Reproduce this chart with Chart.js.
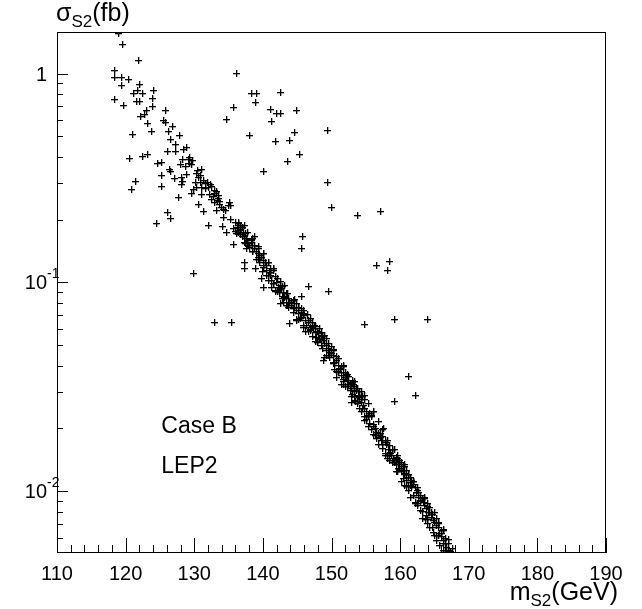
<!DOCTYPE html>
<html><head><meta charset="utf-8">
<script src="https://cdn.jsdelivr.net/npm/chart.js@4.4.1/dist/chart.umd.min.js"></script>
<style>html,body{margin:0;padding:0;background:#fff}canvas{position:absolute;left:0;top:0}</style>
</head><body>
<canvas id="c" width="642" height="609"></canvas>
<script>
// m_S2 (GeV)
const massGeV = [
118.93,119.52,121.91,118.31,118.31,119.43,120.45,119.33,122.09,121.76,
121.12,122.49,124.03,118.31,121.61,121.95,123.89,119.62,123.89,123.11,
125.74,122.20,122.82,125.55,125.88,123.22,126.80,126.32,123.84,121.03,
127.78,126.47,127.24,128.80,128.40,126.13,127.34,120.54,122.53,123.22,
129.38,129.13,128.32,124.62,125.20,129.28,127.97,128.75,129.63,126.42,
126.61,125.26,127.05,128.07,128.84,130.50,131.09,130.36,121.37,120.89,
125.30,128.07,129.53,131.09,131.61,131.96,129.86,127.73,130.69,131.38,
132.54,133.02,133.36,133.65,134.00,134.92,134.52,132.05,126.13,126.57,
124.53,129.82,134.09,134.63,135.31,135.94,136.27,136.19,136.67,137.15,
135.75,137.35,137.64,138.27,138.46,139.10,139.33,140.06,140.41,137.29,
137.25,138.95,139.92,141.18,141.52,139.83,141.52,142.50,140.06,141.29,
136.13,138.37,139.10,142.54,138.95,135.69,134.67,141.18,142.01,142.54,
144.93,141.23,138.02,144.68,141.87,143.85,145.37,143.62,140.06,149.42,
149.39,149.93,153.72,157.07,145.80,145.70,156.59,158.52,158.13,146.62,
149.59,154.74,159.11,163.96,161.25,162.31,159.15,133.02,135.50,145.66,
129.77,128.32,130.94,130.59,130.11,130.84,131.32,132.30,130.26,131.57,
132.05,133.02,131.09,132.19,132.78,133.27,133.50,132.54,133.50,133.02,
133.75,135.11,133.27,134.23,134.23,136.42,136.77,137.06,135.21,136.42,
137.54,137.64,138.37,137.88,138.12,138.71,139.33,139.58,139.83,140.56,
140.94,141.29,142.01,142.25,142.74,142.98,143.47,143.22,143.71,143.95,
144.20,143.71,144.43,142.50,142.98,145.66,144.43,144.68,144.93,145.66,
145.89,145.41,144.93,146.14,146.62,146.39,146.87,147.35,143.95,145.89,
147.60,148.08,148.57,147.84,148.32,148.81,149.05,148.57,149.30,149.53,
149.78,149.05,148.81,150.26,150.76,150.51,150.99,150.51,151.24,151.72,
151.49,151.97,152.45,150.76,152.70,153.18,153.67,153.42,153.91,154.40,
154.88,152.94,151.49,152.21,151.72,152.45,152.94,153.67,152.94,154.15,
154.40,154.63,154.88,155.13,155.36,155.61,155.86,154.88,155.61,156.09,
156.34,156.59,156.82,157.07,157.32,157.80,158.04,158.28,158.52,158.77,
159.01,159.25,159.73,159.50,159.98,160.23,160.71,160.96,161.44,158.52,
159.50,159.25,159.98,159.73,160.46,160.71,160.23,160.96,161.44,161.69,
162.17,162.42,161.92,162.65,162.90,163.38,163.62,163.87,164.11,164.35,
163.87,164.60,164.83,165.08,164.83,165.56,165.81,166.06,166.29,166.54,
166.79,167.02,167.27,167.52,159.69,159.84,160.27,160.57,160.86,161.15,
161.29,161.73,160.71,162.02,161.15,162.46,162.75,161.58,163.04,162.17,
163.48,162.60,163.92,163.04,164.21,163.33,164.64,165.37,164.06,165.23,
164.35,165.66,166.10,165.08,165.37,166.68,165.81,166.39,166.98,153.42,
153.72,154.01,154.44,154.74,155.17,155.46,155.90,156.19,156.63,157.50,
157.94,156.92,157.50,158.38,157.94,158.82,158.23,159.11,159.54,144.97,
145.26,145.99,146.43,145.26,146.87,147.16,147.74,147.01,148.18,148.62,
148.03,149.20,149.34,149.93,149.64,150.22,150.80,151.09,151.53,152.11,
151.82,152.40,152.99,152.70,153.42,154.01,154.44,153.28,136.38,136.81,
137.25,137.69,138.85,138.56,139.29,139.58,140.02,140.75,140.60,141.04,
141.77,140.75,141.91,142.35,142.93,143.37,142.64,
137.25,138.71,140.16,141.62,143.08,144.54,145.99,147.45,148.91,150.36,
151.82,153.28,154.74,156.19,157.65,159.11,160.57,162.02,163.48,164.94,
166.39,
136.08,137.54,139.00,140.46,141.91,143.37,144.83,146.28,147.74,149.20,
150.66,152.11,153.57,155.03,156.48,157.94,159.40,160.86,162.31,163.77,
165.23,166.68,
136.81,138.27,139.73,141.18,142.64,144.10,145.56,147.01,148.47,149.93,
151.38,152.84,154.30,155.76,157.21,158.67,160.13,161.58,163.04,164.50,
165.96,
136.38,137.10,137.83,138.56,139.29,140.02,140.75,141.48,142.20,142.93,
143.66,144.39,145.12,145.85,146.58,147.30,148.03,148.76,149.49,150.22,
150.95,151.68,152.40,153.13,153.86,154.59,155.32,156.05,156.78,157.50,
158.23,158.96,159.69,160.42,161.15,161.88,162.60,163.33,164.06,164.79,
165.52,166.25,166.98,167.70,
135.65,136.38,137.10,137.83,138.56,139.29,140.02,140.75,141.48,142.20,
142.93,143.66,144.39,145.12,145.85,146.58,147.30,148.03,148.76,149.49,
150.22,150.95,151.68,152.40,153.13,153.86,154.59,155.32,156.05,156.78,
157.50,158.23,158.96,159.69,160.42,161.15,161.88,162.60,163.33,164.06,
164.79,165.52,166.25,166.98
];
// sigma_S2 (fb)
const sigmaFb = [
1.56,1.37,1.15,1.03,0.960,0.960,0.939,0.879,0.889,0.832,
0.805,0.805,0.832,0.753,0.737,0.737,0.762,0.705,0.697,0.667,
0.667,0.625,0.639,0.598,0.585,0.578,0.560,0.530,0.530,0.512,
0.507,0.485,0.459,0.444,0.434,0.425,0.425,0.393,0.402,0.411,
0.398,0.389,0.389,0.372,0.376,0.372,0.368,0.360,0.368,0.348,
0.341,0.326,0.315,0.319,0.330,0.345,0.348,0.333,0.305,0.279,
0.289,0.295,0.267,0.286,0.299,0.302,0.279,0.256,0.237,0.219,
0.289,0.267,0.248,0.245,0.229,0.234,0.222,0.188,0.215,0.203,
0.192,0.110,0.186,0.174,0.201,0.194,0.184,0.172,0.178,0.174,
0.152,0.156,0.146,0.161,0.151,0.141,0.132,0.128,0.124,0.124,
0.116,0.116,0.113,0.117,0.116,0.105,0.0992,0.101,0.0950,0.0950,
1.000,0.805,0.805,0.814,0.729,0.690,0.604,0.675,0.646,0.646,
0.667,0.591,0.507,0.524,0.474,0.480,0.411,0.380,0.341,0.535,
0.302,0.229,0.210,0.219,0.166,0.146,0.121,0.126,0.114,0.0960,
0.0908,0.0632,0.0667,0.0667,0.0356,0.0289,0.0270,0.0646,0.0646,0.0860,
0.385,0.305,0.326,0.319,0.302,0.302,0.309,0.295,0.286,0.283,
0.286,0.276,0.264,0.264,0.259,0.273,0.262,0.250,0.253,0.240,
0.237,0.240,0.222,0.224,0.205,0.194,0.188,0.184,0.234,0.188,
0.172,0.163,0.156,0.151,0.147,0.146,0.138,0.135,0.131,0.121,
0.112,0.1025,0.100,0.0950,0.0939,0.0898,0.0889,0.0850,0.0841,0.0805,
0.0779,0.0762,0.0753,0.0796,0.0805,0.0753,0.0823,0.0762,0.0737,0.0721,
0.0697,0.0675,0.0660,0.0660,0.0646,0.0625,0.0611,0.0604,0.0639,0.0611,
0.0578,0.0572,0.0578,0.0547,0.0541,0.0530,0.0512,0.0501,0.0501,0.0485,
0.0464,0.0439,0.0425,0.0449,0.0425,0.0416,0.0402,0.0381,0.0389,0.0372,
0.0360,0.0352,0.0356,0.0352,0.0330,0.0323,0.0312,0.0299,0.0289,0.0283,
0.0276,0.0283,0.0326,0.0360,0.0323,0.0323,0.0312,0.0305,0.0267,0.0280,
0.0267,0.0259,0.0250,0.0240,0.0232,0.0237,0.0227,0.0219,0.0212,0.0208,
0.0201,0.0192,0.0190,0.0182,0.0176,0.0172,0.0167,0.0158,0.0152,0.0149,
0.0144,0.0141,0.0138,0.0134,0.0129,0.0124,0.0122,0.0117,0.0116,0.0141,
0.0146,0.0138,0.0134,0.0129,0.0126,0.0120,0.0111,0.0113,0.0110,0.0105,
0.0104,0.00992,0.00960,0.00939,0.00908,0.00888,0.00860,0.00832,0.00796,0.00788,
0.00770,0.00753,0.00729,0.00713,0.00639,0.00668,0.00632,0.00605,0.00585,0.00566,
0.00541,0.00524,0.00513,0.00507,0.0149,0.0141,0.0138,0.0132,0.0126,0.0121,
0.0116,0.0113,0.0107,0.0108,0.0101,0.0104,0.00992,0.00939,0.00960,0.00888,
0.00929,0.00860,0.00878,0.00814,0.00841,0.00745,0.00796,0.00745,0.00698,0.00690,
0.00668,0.00698,0.00653,0.00618,0.00585,0.00598,0.00553,0.00524,0.00566,0.0273,
0.0262,0.0250,0.0240,0.0229,0.0222,0.0205,0.0197,0.0188,0.0180,0.0184,
0.0176,0.0168,0.0161,0.0165,0.0151,0.0158,0.0144,0.0137,0.0144,0.0796,
0.0762,0.0737,0.0705,0.0713,0.0675,0.0646,0.0618,0.0591,0.0604,0.0560,
0.0518,0.0541,0.0474,0.0496,0.0439,0.0416,0.0444,0.0372,0.0398,0.0372,
0.0337,0.0341,0.0341,0.0305,0.0319,0.0299,0.0299,0.0286,0.178,0.170,
0.165,0.156,0.151,0.140,0.146,0.125,0.121,0.125,0.1145,0.108,
0.107,0.1025,0.0918,0.0898,0.0860,0.0805,0.0971,
0.188,0.165,0.138,0.116,0.0971,0.0832,0.0713,0.0625,0.0560,0.0480,
0.0402,0.0337,0.0289,0.0242,0.0199,0.0159,0.0134,0.0112,0.00939,0.00788,
0.00660,
0.176,0.154,0.129,0.108,0.0908,0.0779,0.0667,0.0585,0.0524,0.0449,
0.0376,0.0316,0.0270,0.0227,0.0186,0.0149,0.0125,0.0105,0.00878,0.00737,
0.00618,0.00524,
0.180,0.158,0.132,0.111,0.0929,0.0796,0.0682,0.0598,0.0535,0.0459,
0.0385,0.0323,0.0276,0.0232,0.0190,0.0152,0.0128,0.0107,0.00898,0.00753,
0.00632,
0.192,0.184,0.174,0.163,0.149,0.137,0.125,0.1145,0.105,0.0960,
0.0889,0.0823,0.0762,0.0705,0.0660,0.0618,0.0585,0.0553,0.0512,0.0474,
0.0434,0.0398,0.0364,0.0333,0.0309,0.0286,0.0262,0.0240,0.0217,0.0197,
0.0176,0.0158,0.0144,0.0132,0.0121,0.0111,0.0101,0.00929,0.00851,0.00779,
0.00713,0.00653,0.00591,0.00535,
0.182,0.174,0.165,0.154,0.141,0.129,0.118,0.108,0.0992,0.0908,
0.0841,0.0779,0.0721,0.0667,0.0625,0.0585,0.0553,0.0524,0.0485,0.0449,
0.0411,0.0376,0.0345,0.0316,0.0292,0.0270,0.0248,0.0227,0.0205,0.0186,
0.0167,0.0149,0.0137,0.0125,0.0115,0.0105,0.00960,0.00878,0.00805,0.00737,
0.00675,0.00618,0.00560,0.00513
];
const xTickValues = [110,120,130,140,150,160,170,180,190];
const xTickLabels = ['110','120','130','140','150','160','170','180','190'];
const yTickValues = [1, 0.1, 0.01];
const yTickBase = ['1','10','10'];
const yTickExp = ['','-1','-2'];
const textLines = ['Case B','LEP2'];

const FONT = '"Liberation Sans", Arial, Helvetica, sans-serif';
const X_MIN = 110, X_MAX = 190, Y_MIN = 0.00507, Y_MAX = 1.58;

// crisp 7x7 "+" marker with a faint antialiasing fringe
const marker = document.createElement('canvas');
marker.width = 7; marker.height = 7;
(function () {
  const m = marker.getContext('2d');
  m.fillStyle = 'rgba(0,0,0,0.3)';
  m.fillRect(0, 4, 7, 1);
  m.fillRect(4, 0, 1, 7);
  m.fillStyle = '#000';
  m.fillRect(0, 3, 7, 1);
  m.fillRect(3, 0, 1, 7);
})();

const crispPoints = {
  id: 'crispPoints',
  beforeDatasetsDraw(chart) { chart.ctx.save(); chart.ctx.imageSmoothingEnabled = false; },
  afterDatasetsDraw(chart) { chart.ctx.restore(); }
};

const rootAxes = {
  id: 'rootAxes',
  afterDraw(chart) {
    const { ctx, chartArea: a, scales } = chart;
    const x = scales.x, y = scales.y;
    ctx.save();
    ctx.strokeStyle = '#000';
    ctx.fillStyle = '#000';
    ctx.lineWidth = 1;
    ctx.strokeRect(a.left + 0.5, a.top + 0.5, a.right - a.left - 1, a.bottom - a.top - 1);
    ctx.beginPath();
    for (let v = X_MIN; v <= X_MAX + 1e-9; v += 2) {
      const px = Math.round(x.getPixelForValue(v)) + 0.5;
      const major = xTickValues.includes(Math.round(v));
      const len = major ? 15 : 8;
      ctx.moveTo(px, a.bottom);
      ctx.lineTo(px, a.bottom - len);
    }
    for (let e = -3; e <= 0; e++) {
      for (let k = 1; k <= 9; k++) {
        const v = k * Math.pow(10, e);
        if (v < Y_MIN || v > Y_MAX) continue;
        const py = Math.round(y.getPixelForValue(v)) + 0.5;
        const len = k === 1 ? 11 : 6;
        ctx.moveTo(a.left, py);
        ctx.lineTo(a.left + len, py);
      }
    }
    ctx.stroke();

    // x tick labels
    ctx.font = '20px ' + FONT;
    ctx.textAlign = 'center';
    ctx.textBaseline = 'alphabetic';
    xTickValues.forEach((v, i) => {
      ctx.fillText(xTickLabels[i], x.getPixelForValue(v), a.bottom + 27);
    });
    // y tick labels
    yTickValues.forEach((v, i) => {
      const py = y.getPixelForValue(v);
      if (yTickExp[i] === '') {
        ctx.font = '20px ' + FONT;
        ctx.textAlign = 'right';
        ctx.fillText(yTickBase[i], a.left - 10, py + 7);
      } else {
        ctx.font = '14px ' + FONT;
        ctx.textAlign = 'left';
        ctx.fillText(yTickExp[i], a.left - 10, py - 4);
        ctx.font = '20px ' + FONT;
        ctx.textAlign = 'right';
        ctx.fillText(yTickBase[i], a.left - 10, py + 7);
      }
    });

    // axis titles with subscripts
    const drawSub = (parts, x0, base, align) => {
      const widths = parts.map(p => { ctx.font = p[1] + 'px ' + FONT; return ctx.measureText(p[0]).width; });
      const total = widths.reduce((s, w) => s + w, 0);
      let cx = align === 'right' ? x0 - total : x0;
      ctx.textAlign = 'left';
      parts.forEach((p, i) => {
        ctx.font = p[1] + 'px ' + FONT;
        ctx.fillText(p[0], cx, base + p[2]);
        cx += widths[i];
      });
    };
    drawSub([['\u03c3', 25, 0], ['S2', 17, 6], ['(fb)', 25, 0]], 56, 21, 'left');
    drawSub([['m', 25, 0], ['S2', 17, 6], ['(GeV)', 25, 0]], 618, 600, 'right');

    // annotations
    ctx.font = '23px ' + FONT;
    ctx.textAlign = 'left';
    ctx.fillText(textLines[0], x.getPixelForValue(125.2), y.getPixelForValue(0.0190));
    ctx.fillText(textLines[1], x.getPixelForValue(125.2), y.getPixelForValue(0.01224));
    ctx.restore();
  }
};

new Chart(document.getElementById('c'), {
  type: 'scatter',
  data: {
    datasets: [{
      data: massGeV.map((m, i) => ({ x: m, y: sigmaFb[i] })),
      pointStyle: marker,
      pointRadius: 3.5,
      borderColor: '#000',
      backgroundColor: '#000',
      clip: 0
    }]
  },
  options: {
    responsive: false,
    animation: false,
    devicePixelRatio: 1,
    layout: { padding: { left: 57, right: 36, top: 32, bottom: 56 } },
    plugins: { legend: { display: false }, tooltip: { enabled: false } },
    scales: {
      x: { type: 'linear', min: X_MIN, max: X_MAX, display: false },
      y: { type: 'logarithmic', min: Y_MIN, max: Y_MAX, display: false }
    }
  },
  plugins: [crispPoints, rootAxes]
});
</script>
</body></html>
